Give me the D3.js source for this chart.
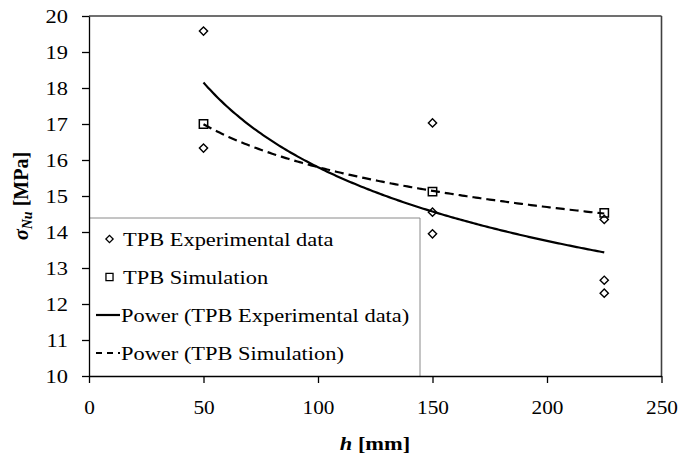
<!DOCTYPE html>
<html>
<head>
<meta charset="utf-8">
<script src="https://cdn.jsdelivr.net/npm/d3@7"></script>
<style>
  html, body { margin: 0; padding: 0; background: #fff; }
  svg { display: block; font-family: "Liberation Serif", "Times New Roman", serif; }
</style>
</head>
<body>
<svg id="chart" width="679" height="461"></svg>
<script>
// ---- data ----
const expH = [50, 50, 150, 150, 150, 225, 225, 225];
const expSigma = [19.58, 16.33, 17.03, 14.55, 13.95, 14.35, 12.66, 12.30];
const simH = [50, 150, 225];
const simSigma = [17.0, 15.12, 14.53];
const xTicks = [0, 50, 100, 150, 200, 250];
const yTicks = [10, 11, 12, 13, 14, 15, 16, 17, 18, 19, 20];
const legendLabels = ["TPB Experimental data", "TPB Simulation",
  "Power (TPB Experimental data)", "Power (TPB Simulation)"];

// ---- layout ----
const L = 89, R = 661.5, T = 16, B = 376;
const SX = 1.18;

const svg = d3.select("#chart");
const x = d3.scaleLinear().domain([0, 250]).range([L, R]);
const y = d3.scaleLinear().domain([10, 20]).range([B, T]);

function stretch(sel, sx) {
  sel.each(function () {
    const w = this.getComputedTextLength();
    this.setAttribute("textLength", w * sx);
    this.setAttribute("lengthAdjust", "spacingAndGlyphs");
  });
}

// power fit y = a x^b (least squares in log space), like a spreadsheet trendline
function powerFit(xs, ys) {
  const lx = xs.map(Math.log), ly = ys.map(Math.log);
  const mx = d3.mean(lx), my = d3.mean(ly);
  let sxy = 0, sxx = 0;
  lx.forEach((v, i) => { sxy += (v - mx) * (ly[i] - my); sxx += (v - mx) * (v - mx); });
  const b = sxy / sxx;
  const a = Math.exp(my - b * mx);
  return h => a * Math.pow(h, b);
}

// frame (top and right)
svg.append("line").attr("x1", L).attr("x2", R).attr("y1", T).attr("y2", T)
  .attr("stroke", "#404040").attr("stroke-width", 1.3);
svg.append("line").attr("x1", R).attr("x2", R).attr("y1", T).attr("y2", B)
  .attr("stroke", "#404040").attr("stroke-width", 1.6);

// legend background (top and right border only; left/bottom are the axes)
const LGT = 218, LGR = 420;
svg.append("rect").attr("x", L).attr("y", LGT).attr("width", LGR - L).attr("height", B - LGT)
  .attr("fill", "#fff");
svg.append("path").attr("d", `M${L},${LGT}H${LGR}V${B}`)
  .attr("fill", "none").attr("stroke", "#8a8a8a").attr("stroke-width", 1);

// axes
const yAxis = d3.axisLeft(y).tickValues(yTicks).tickSize(7).tickSizeOuter(0).tickPadding(14);
const gy = svg.append("g").attr("transform", `translate(${L},0)`).call(yAxis);
const xAxis = d3.axisBottom(x).tickValues(xTicks).tickSize(7).tickSizeOuter(0).tickPadding(0);
const gx = svg.append("g").attr("transform", `translate(0,${B})`).call(xAxis);

[gx, gy].forEach(g => {
  g.select(".domain").attr("stroke", "#000").attr("stroke-width", 1.3);
  g.selectAll(".tick line").attr("stroke", "#000").attr("stroke-width", 1.3);
  g.selectAll(".tick text").attr("font-size", 19).attr("fill", "#000")
    .attr("font-family", "Liberation Serif, Times New Roman, serif");
});
gy.selectAll(".tick text").attr("dy", "0.34em");
gx.selectAll(".tick text").attr("dy", null).attr("y", 38);
stretch(gy.selectAll(".tick text"), SX);
stretch(gx.selectAll(".tick text"), 1.12);

// trend lines
const fitExp = powerFit(expH, expSigma);
const fitSim = powerFit(simH, simSigma);
const hs = d3.range(50, 225.01, 1);
const line = f => d3.line().x(h => x(h)).y(h => y(f(h)));

// markers
svg.append("g").selectAll("path").data(expH).join("path")
  .attr("d", d3.symbol(d3.symbolSquare, 34)())
  .attr("transform", (d, i) => `translate(${x(d)},${y(expSigma[i])}) rotate(45)`)
  .attr("fill", "none").attr("stroke", "#000").attr("stroke-width", 1.4);
svg.append("g").selectAll("path").data(simH).join("path")
  .attr("d", d3.symbol(d3.symbolSquare, 70)())
  .attr("transform", (d, i) => `translate(${x(d)},${y(simSigma[i])})`)
  .attr("fill", "none").attr("stroke", "#000").attr("stroke-width", 1.5);

svg.append("path").attr("d", line(fitExp)(hs))
  .attr("fill", "none").attr("stroke", "#000").attr("stroke-width", 2.2);
svg.append("path").attr("d", line(fitSim)(hs))
  .attr("fill", "none").attr("stroke", "#000").attr("stroke-width", 2.2)
  .attr("stroke-dasharray", "9,5");

// legend content
const lg = svg.append("g");
const rowY = [239, 277, 315, 353];
lg.append("path").attr("d", d3.symbol(d3.symbolSquare, 26)())
  .attr("transform", `translate(109.5,${rowY[0]}) rotate(45)`)
  .attr("fill", "none").attr("stroke", "#000").attr("stroke-width", 1.3);
lg.append("path").attr("d", d3.symbol(d3.symbolSquare, 50)())
  .attr("transform", `translate(109.5,${rowY[1]})`)
  .attr("fill", "none").attr("stroke", "#000").attr("stroke-width", 1.3);
lg.append("line").attr("x1", 96).attr("x2", 120).attr("y1", rowY[2]).attr("y2", rowY[2])
  .attr("stroke", "#000").attr("stroke-width", 2.2);
lg.append("line").attr("x1", 96).attr("x2", 120).attr("y1", rowY[3]).attr("y2", rowY[3])
  .attr("stroke", "#000").attr("stroke-width", 2.2).attr("stroke-dasharray", "6,5");

const legendX = [123, 123, 121, 121];
const lt = lg.selectAll("text.leg").data(legendLabels).join("text")
  .attr("class", "leg")
  .attr("x", (d, i) => legendX[i]).attr("y", (d, i) => rowY[i] + 6.5)
  .attr("font-size", 19).attr("fill", "#000").text(d => d);
stretch(lt, SX);

// axis titles
const xt = svg.append("text").attr("x", 375).attr("y", 450).attr("text-anchor", "middle")
  .attr("font-size", 19).attr("font-weight", "bold").attr("fill", "#000");
xt.append("tspan").attr("font-style", "italic").text("h");
xt.append("tspan").text(" [mm]");
stretch(xt, 1.18);

const ytl = svg.append("text").attr("transform", "translate(28,196) rotate(-90)")
  .attr("text-anchor", "middle").attr("font-size", 20).attr("font-weight", "bold").attr("fill", "#000");
ytl.append("tspan").attr("font-style", "italic").text("σ");
ytl.append("tspan").attr("font-style", "italic").attr("font-size", 14).attr("dy", 4).text("Nu");
ytl.append("tspan").attr("dy", -4).text(" [MPa]");
</script>
</body>
</html>
